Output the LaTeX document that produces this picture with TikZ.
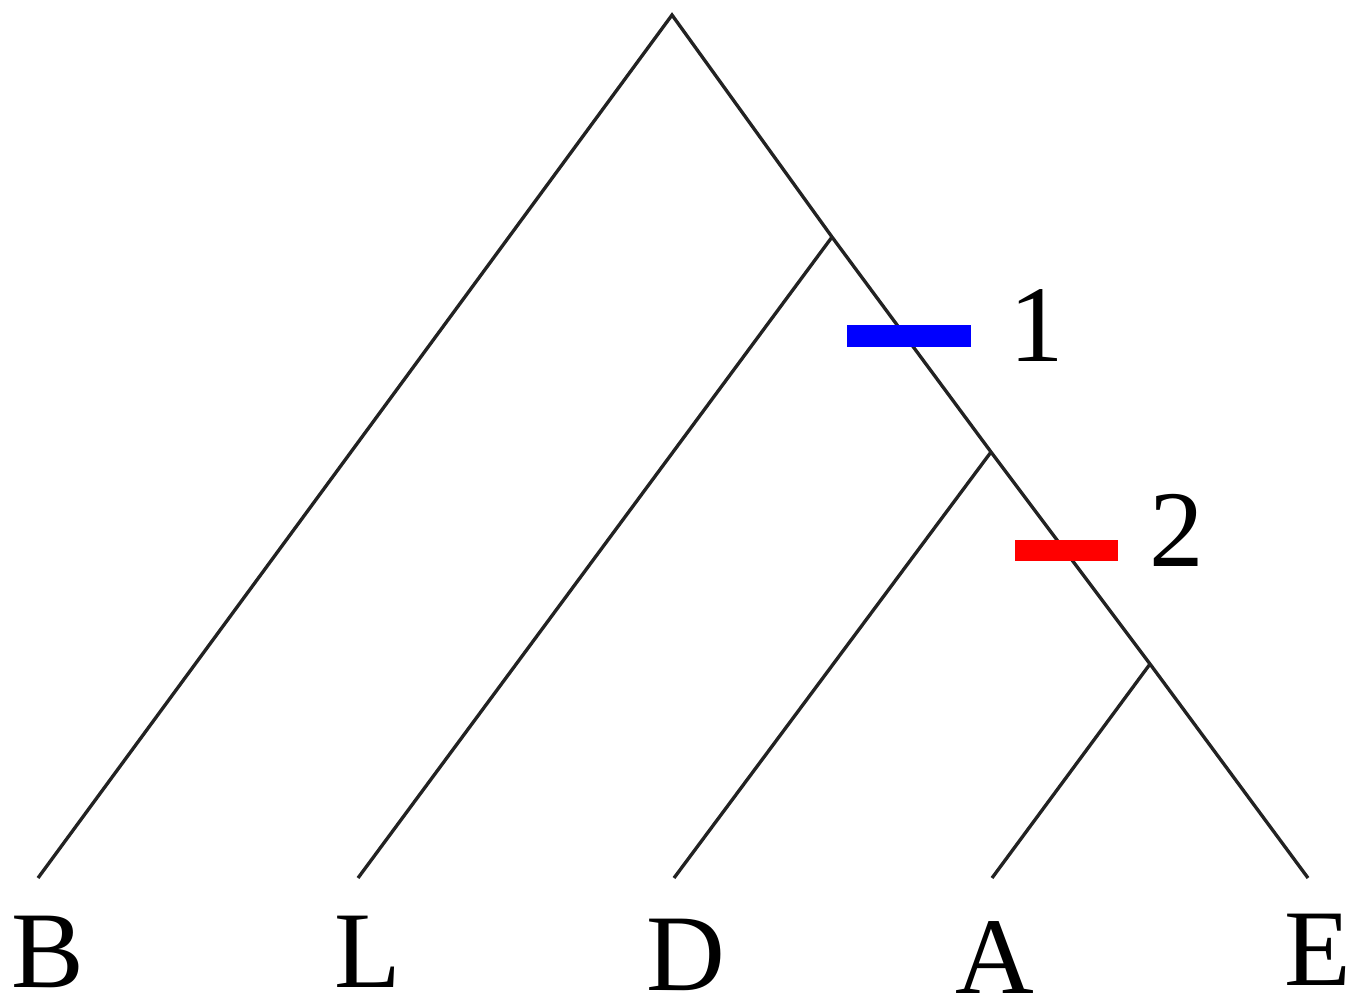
\documentclass[tikz,border=0pt]{standalone}
\usepackage{fontspec}
\setmainfont{Liberation Serif}
\definecolor{branchgray}{RGB}{34,34,34}
\begin{document}
\begin{tikzpicture}[x=0.01cm,y=-0.01cm,
  branch/.style={line width=0.95pt,branchgray},
  lbl/.style={anchor=base,inner sep=0pt,font=\fontsize{31}{31}\selectfont},
  markbar/.style={line width=0.21cm}]
\useasboundingbox (0,0) rectangle (1346,997);
% tree vertices
\coordinate (root) at (672,15);
\coordinate (n1) at (832,237);
\coordinate (n2) at (991,452);
\coordinate (n3) at (1150,664);
\coordinate (B) at (38,878);
\coordinate (L) at (358,878);
\coordinate (D) at (674,878);
\coordinate (A) at (992,878);
\coordinate (E) at (1308,878);
% branches
\draw[branch] (B) -- (root) -- (n1) -- (n2) -- (n3) -- (E);
\draw[branch] (L) -- (n1);
\draw[branch] (D) -- (n2);
\draw[branch] (A) -- (n3);
% leaf labels
\node[lbl] (lB) at (48,987) {B};
\node[lbl] (lL) at (368,987) {L};
\node[lbl] (lD) at (686,990) {D};
\node[lbl] (lA) at (995,993) {A};
\node[lbl] (lE) at (1318,985) {E};
% character changes
\coordinate (b1s) at (847,336);
\coordinate (b1e) at (971,336);
\draw[markbar,blue] (b1s) -- (b1e);
\node[lbl] (l1) at (1037,361) {1};
\coordinate (b2s) at (1015,550);
\coordinate (b2e) at (1118,550);
\draw[markbar,red] (b2s) -- (b2e);
\node[lbl] (l2) at (1177,566) {2};
\end{tikzpicture}
\end{document}
